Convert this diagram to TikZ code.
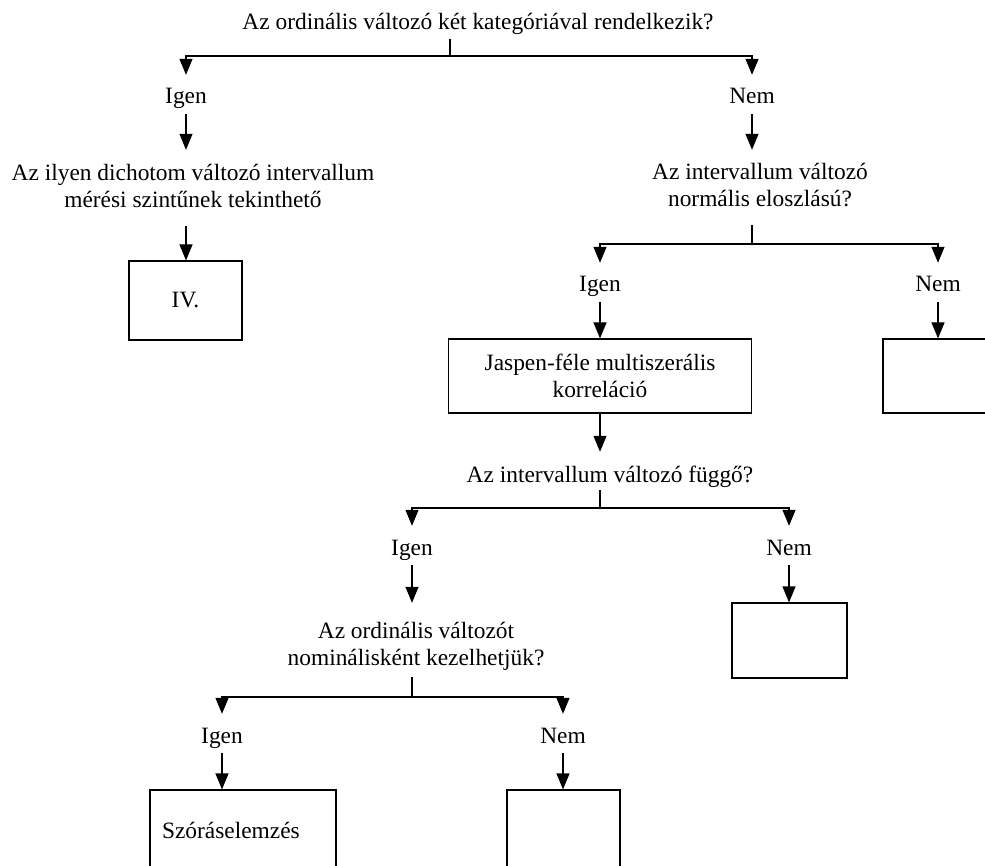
\documentclass[tikz,border=0pt]{standalone}
\usepackage{fontspec}
\setmainfont{Liberation Serif}
\usetikzlibrary{arrows.meta}

\tikzset{
  question/.style={align=center, inner sep=0pt, anchor=base},
  answer/.style={inner sep=0pt, anchor=base, text height=29pt, text depth=10pt},
  result/.style={draw, line width=1.2pt, inner sep=0pt},
  link/.style={line width=1.2pt},
  down/.style={link, -{Triangle[length=16pt,width=13pt]}}
}

\begin{document}
\begin{tikzpicture}[x=1pt,y=-1pt,font=\fontsize{23.4}{27}\selectfont]
\useasboundingbox (0,0) rectangle (985,866);
\clip (0,0) rectangle (985,866);

% questions (base = last line)
\node[question, text depth=9pt] (q1) at (478,30) {Az ordinális változó két kategóriával rendelkezik?};
\node[question, text height=58pt, text depth=18pt] (q2) at (193,208) {Az ilyen dichotom változó intervallum\\mérési szintűnek tekinthető};
\node[question, text height=57pt, text depth=18pt] (q3) at (760,207) {Az intervallum változó\\normális eloszlású?};
\node[question, text height=30pt, text depth=8pt] (q5) at (610,482) {Az intervallum változó függő?};
\node[question, text height=62pt, text depth=12pt] (q6) at (416,665) {Az ordinális változót\\nominálisként kezelhetjük?};

% answers
\node[answer] (i1) at (186,104) {Igen};
\node[answer] (n1) at (752,104) {Nem};
\node[answer] (i2) at (600,292) {Igen};
\node[answer] (n2) at (938,292) {Nem};
\node[answer] (i3) at (412,555) {Igen};
\node[answer] (n3) at (789,555) {Nem};
\node[answer] (i4) at (222,743) {Igen};
\node[answer] (n4) at (563,743) {Nem};

% boxes
\node[result, minimum width=113pt, minimum height=79pt] (r1) at (185.5,300.5) {IV.};
\node[result, minimum width=303pt, minimum height=74pt, align=center] (r2) at (600,376) {Jaspen-féle multiszerális\\korreláció};
\node[result, minimum width=116pt, minimum height=74pt] (r3) at (941,376) {};
\node[result, minimum width=115pt, minimum height=75pt] (r4) at (789.5,640.5) {};
\node[result, minimum height=80pt, text width=162pt, inner xsep=12pt, align=left] (r5) at (243,830) {Szóráselemzés};
\node[result, minimum width=113pt, minimum height=80pt] (r6) at (563.5,830) {};

% branch points
\coordinate (j1) at (450,56);
\coordinate (j2) at (752,244);
\coordinate (j3) at (600,508);
\coordinate (j4) at (412,697);

% first split
\draw[link] (q1.south -| j1) -- (j1);
\draw[down] (j1) -| (i1);
\draw[down] (j1) -| (n1);
\draw[down] (i1) -- (i1 |- q2.north);
\draw[down] (n1) -- (n1 |- q3.north);
\draw[down] (i1 |- q2.south) -- (i1 |- r1.north);

% normal distribution
\draw[link] (q3.south -| j2) -- (j2);
\draw[down] (j2) -| (i2);
\draw[down] (j2) -| (n2);
\draw[down] (i2) -- (i2 |- r2.north);
\draw[down] (n2) -- (n2 |- r3.north);
\draw[down] (r2) -- (r2 |- q5.north);

% dependent variable
\draw[link] (q5.south -| j3) -- (j3);
\draw[down] (j3) -| (i3);
\draw[down] (j3) -| (n3);
\draw[down] (i3) -- (i3 |- q6.north);
\draw[down] (n3) -- (n3 |- r4.north);

% nominal treatment
\draw[link] (q6.south -| j4) -- (j4);
\draw[down] (j4) -| (i4);
\draw[down] (j4) -| (n4);
\draw[down] (i4) -- (i4 |- r5.north);
\draw[down] (n4) -- (n4 |- r6.north);
\end{tikzpicture}
\end{document}
